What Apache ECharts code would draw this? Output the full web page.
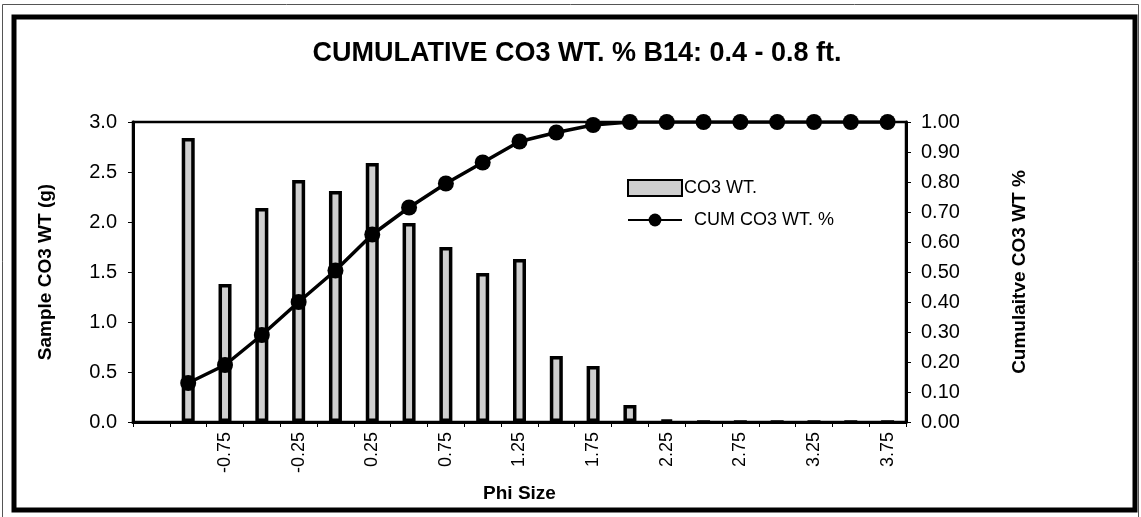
<!DOCTYPE html>
<html>
<head>
<meta charset="utf-8">
<script src="https://cdn.jsdelivr.net/npm/echarts@6/dist/echarts.min.js"></script>
<style>
html,body{margin:0;padding:0;background:#fff;}
#chart{width:1141px;height:517px;}
</style>
</head>
<body>
<div id="chart"></div>
<script>
// ---- data ----
var categories = ['-1.25','-1.00','-0.75','-0.50','-0.25','0.00','0.25','0.50','0.75','1.00','1.25','1.50','1.75','2.00','2.25','2.50','2.75','3.00','3.25','3.50','3.75'];
var co3Weight = [null, 2.84, 1.38, 2.14, 2.42, 2.31, 2.59, 1.99, 1.75, 1.49, 1.63, 0.66, 0.56, 0.17, 0.02, 0, 0, 0, 0, 0, 0];
var cumCo3Pct = [null, 0.13, 0.19, 0.29, 0.40, 0.505, 0.625, 0.715, 0.795, 0.865, 0.935, 0.965, 0.99, 1.00, 1.00, 1.00, 1.00, 1.00, 1.00, 1.00, 1.00];
var titleText = 'CUMULATIVE CO3 WT. % B14: 0.4 - 0.8 ft.';
var barName = 'CO3 WT.';
var lineName = 'CUM CO3 WT. %';

var FONT = '"Liberation Sans", Arial, Helvetica, sans-serif';
var chart = echarts.init(document.getElementById('chart'), null, {renderer: 'canvas'});

var option = {
  backgroundColor: '#ffffff',
  animation: false,
  textStyle: {fontFamily: FONT, color: '#000'},
  title: {
    text: titleText,
    left: 572, top: 35, textAlign: 'center',
    textStyle: {fontFamily: FONT, fontSize: 27, fontWeight: 'bold', color: '#000'}
  },
  graphic: [
    {type: 'rect', shape: {x: 2.5, y: 4.5, width: 1136, height: 520}, style: {fill: null, stroke: '#555', lineWidth: 1}, silent: true},
    {type: 'rect', shape: {x: 14, y: 17, width: 1121, height: 493}, style: {fill: null, stroke: '#000', lineWidth: 5}, silent: true}
  ],
  legend: {
    left: 622, top: 174, orient: 'vertical', itemGap: 14,
    itemWidth: 54, itemHeight: 16,
    textStyle: {fontFamily: FONT, fontSize: 18, color: '#000', padding: [0,0,0,-3]},
    formatter: function (n) { return n === lineName ? '  ' + n : n; },
    data: [{name: barName, icon: 'rect'}, {name: lineName}]
  },
  grid: {
    left: 133, right: 235, top: 122, bottom: 95,
    show: true, borderColor: '#000', borderWidth: 2.5, backgroundColor: 'transparent'
  },
  xAxis: {
    type: 'category', data: categories, boundaryGap: true,
    name: 'Phi Size', nameLocation: 'middle', nameGap: 62,
    nameTextStyle: {fontFamily: FONT, fontSize: 19, fontWeight: 'bold', color: '#000'},
    axisLine: {lineStyle: {color: '#000', width: 3}},
    axisTick: {show: true, interval: 0, length: 5, lineStyle: {color: '#000', width: 1}},
    axisLabel: {
      rotate: 90, margin: 10, fontSize: 18, color: '#000', fontFamily: FONT,
      interval: function (i) { return i > 0 && i % 2 === 0; }
    },
    splitLine: {show: false}
  },
  yAxis: [
    {
      type: 'value', min: 0, max: 3, interval: 0.5, position: 'left',
      name: 'Sample CO3 WT (g)', nameLocation: 'middle', nameGap: 78, nameRotate: 90,
      nameTextStyle: {fontFamily: FONT, fontSize: 19, fontWeight: 'bold', color: '#000'},
      axisLine: {show: true, lineStyle: {color: '#000', width: 3}},
      axisTick: {show: true, length: 5, lineStyle: {color: '#000', width: 1}},
      axisLabel: {margin: 16, fontSize: 20, color: '#000', fontFamily: FONT,
        formatter: function (v) { return v.toFixed(1); }},
      splitLine: {show: false}
    },
    {
      type: 'value', min: 0, max: 1, interval: 0.1, position: 'right',
      name: 'Cumulaitve CO3 WT %', nameLocation: 'middle', nameGap: 104, nameRotate: 90,
      nameTextStyle: {fontFamily: FONT, fontSize: 19, fontWeight: 'bold', color: '#000'},
      axisLine: {show: true, lineStyle: {color: '#000', width: 3}},
      axisTick: {show: true, length: 5, lineStyle: {color: '#000', width: 1}},
      axisLabel: {margin: 15, fontSize: 20, color: '#000', fontFamily: FONT,
        formatter: function (v) { return v.toFixed(2); }},
      splitLine: {show: false}
    }
  ],
  series: [
    {
      name: barName, type: 'bar', yAxisIndex: 0, data: co3Weight,
      barWidth: 13,
      itemStyle: {color: '#cfcfcf', borderColor: '#000', borderWidth: 3.5},
      z: 2
    },
    {
      name: lineName, type: 'line', yAxisIndex: 1, data: cumCo3Pct,
      symbol: 'circle', symbolSize: 16, showSymbol: true,
      lineStyle: {color: '#000', width: 3.5},
      itemStyle: {color: '#000'},
      z: 5
    }
  ]
};
chart.setOption(option);
</script>
</body>
</html>
